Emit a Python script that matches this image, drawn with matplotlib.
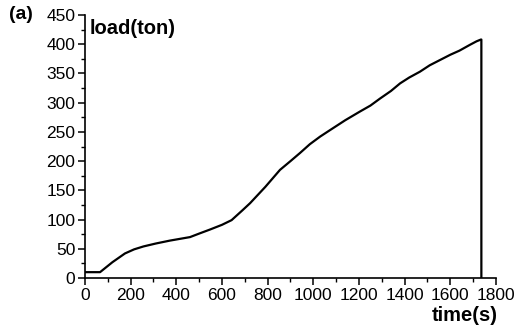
import matplotlib
matplotlib.use("Agg")
import matplotlib.pyplot as plt
from matplotlib.ticker import MultipleLocator

# load history
temps_s = [0, 66, 120, 175, 215, 256, 310, 372, 460, 500, 548, 600, 642,
           690, 723, 790, 854, 900, 942, 985, 1030, 1073, 1140, 1205, 1250,
           1292, 1340, 1380, 1420, 1467, 1510, 1555, 1600, 1640, 1686, 1715,
           1734, 1736, 1736]
charge_ton = [10, 10, 27, 42, 49, 54, 59, 64, 70, 76, 83, 91, 99,
              116, 128, 156, 185, 200, 214, 229, 242, 253, 270, 285, 295,
              307, 320, 333, 343, 353, 364, 373, 382, 389, 399, 405,
              408, 408, 0]

plt.rcParams["font.family"] = ["Liberation Sans", "DejaVu Sans"]

fig = plt.figure(figsize=(5.16, 3.31), dpi=100)
ax = fig.add_axes([0.1647, 0.1601, 0.9612 - 0.1647, 0.9547 - 0.1601])

ax.plot(temps_s, charge_ton, color="black", lw=1.6)

ax.set_xlim(0, 1800)
ax.set_ylim(0, 450)
ax.xaxis.set_major_locator(MultipleLocator(200))
ax.xaxis.set_minor_locator(MultipleLocator(100))
ax.yaxis.set_major_locator(MultipleLocator(50))
ax.yaxis.set_minor_locator(MultipleLocator(25))

for s in ["top", "right"]:
    ax.spines[s].set_visible(False)
for s in ["left", "bottom"]:
    ax.spines[s].set_linewidth(1.2)

ax.tick_params(which="major", direction="out", length=5, width=1.1,
               labelsize=12.5, pad=2)
ax.tick_params(which="minor", direction="out", length=3, width=1.0)

ax.text(0.012, 0.985, "load(ton)", transform=ax.transAxes, fontsize=14.5,
        fontweight="bold", va="top", ha="left")
fig.text(0.018, 0.955, "(a)", fontsize=14, fontweight="bold", va="center")
fig.text(0.965, 0.048, "time(s)", fontsize=14.5, fontweight="bold",
         ha="right", va="center")

fig.savefig("out.png", dpi=100)
